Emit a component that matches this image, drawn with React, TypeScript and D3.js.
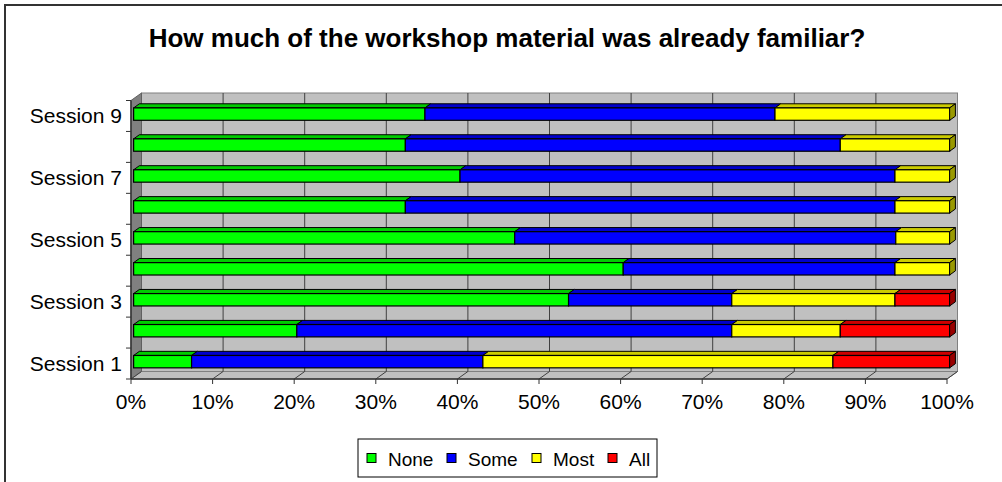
import React from "react";
import * as d3 from "d3";

// Sessions listed bottom to top; only every other name is printed on the axis
const sessions = [
  "Session 1",
  "Session 2",
  "Session 3",
  "Session 4",
  "Session 5",
  "Session 6",
  "Session 7",
  "Session 8",
  "Session 9",
];

const seriesNames = ["None", "Some", "Most", "All"];
const seriesColors = ["#00ff00", "#0000ff", "#ffff00", "#ff0000"];

// Share of answers per session (percent)
const none = [7.1, 20.0, 53.3, 60.0, 46.7, 33.3, 40.0, 33.3, 35.7];
const some = [35.7, 53.3, 20.0, 33.3, 46.7, 60.0, 53.3, 53.3, 42.9];
const most = [42.9, 13.3, 20.0, 6.7, 6.6, 6.7, 6.7, 13.4, 21.4];
const all = [14.3, 13.4, 6.7, 0, 0, 0, 0, 0, 0];

const xTicks = [0, 10, 20, 30, 40, 50, 60, 70, 80, 90, 100];

const W = 1002;
const H = 482;
const FONT = "'Liberation Sans', Arial, sans-serif";

// 3D depth vector of the plot box and where bars sit inside that depth
const DX = 10.5;
const DY = -7.5;
const T0 = 0.25;
const T1 = 0.8;

function shade(c: string, k: number) {
  const col = d3.rgb(c);
  return d3.rgb(col.r * k, col.g * k, col.b * k).toString();
}

export default function App() {
  const x = d3.scaleLinear().domain([0, 100]).range([131, 947]);
  const y = d3
    .scaleBand<string>()
    .domain([...sessions].reverse())
    .range([100.5, 379])
    .padding(0);

  const xL = x(0);
  const xR = x(100);
  const yT = 100.5;
  const yB = 379;

  const rows = sessions.map((s, i) => ({
    session: s,
    vals: [none[i], some[i], most[i], all[i]],
  }));

  const barH = y.bandwidth() * 0.4;
  const pts = (arr: [number, number][]) => arr.map((p) => p.join(",")).join(" ");

  const boundaries = d3.range(sessions.length + 1).map((i) => yT + i * y.bandwidth());

  // legend layout
  const legendItems = seriesNames.map((n, i) => ({ n, c: seriesColors[i] }));
  const textW = [45, 50, 41, 21];
  let cursor = 367;
  const legendPos = legendItems.map((d, i) => {
    const p = cursor;
    cursor += 21 + textW[i] + 14;
    return p;
  });

  return (
    <svg
      width={W}
      height={H}
      style={{ position: "absolute", left: 0, top: 0, background: "#fff" }}
      fontFamily={FONT}
    >
      <rect x={0} y={0} width={W} height={H} fill="#fff" />
      {/* chart frame */}
      <rect x={5} y={5} width={W + 20} height={H + 20} fill="none" stroke="#333" strokeWidth={2} />

      <text x={507} y={47} textAnchor="middle" fontSize={26} fontWeight="bold" fill="#000">
        How much of the workshop material was already familiar?
      </text>

      {/* back wall */}
      <rect
        x={xL + DX}
        y={yT + DY}
        width={xR - xL}
        height={yB - yT}
        fill="#c0c0c0"
        stroke="#808080"
        strokeWidth={1}
      />
      {/* side wall */}
      <polygon
        points={pts([
          [xL, yT],
          [xL + DX, yT + DY],
          [xL + DX, yB + DY],
          [xL, yB],
        ])}
        fill="#808080"
        stroke="#606060"
        strokeWidth={1}
      />
      {/* floor */}
      <polygon
        points={pts([
          [xL, yB],
          [xL + DX, yB + DY],
          [xR + DX, yB + DY],
          [xR, yB],
        ])}
        fill="#c0c0c0"
        stroke="#808080"
        strokeWidth={1}
      />

      {/* gridlines on back wall and floor */}
      {xTicks.map((t) => (
        <g key={"g" + t}>
          {t > 0 && t < 100 && (
            <line
              x1={x(t) + DX}
              x2={x(t) + DX}
              y1={yT + DY}
              y2={yB + DY}
              stroke="#404040"
              strokeWidth={1}
            />
          )}
          <line x1={x(t)} y1={yB} x2={x(t) + DX} y2={yB + DY} stroke="#404040" strokeWidth={1} />
        </g>
      ))}

      {/* axes */}
      <line x1={xL} y1={yT} x2={xL} y2={yB} stroke="#333" strokeWidth={1.5} />
      <line x1={xL} y1={yB} x2={xR} y2={yB} stroke="#333" strokeWidth={1.5} />
      {boundaries.map((b, i) => (
        <line key={"yt" + i} x1={xL - 5} x2={xL} y1={b} y2={b} stroke="#333" strokeWidth={1} />
      ))}
      {xTicks.map((t) => (
        <g key={"xt" + t}>
          <line x1={x(t)} x2={x(t)} y1={yB} y2={yB + 5} stroke="#333" strokeWidth={1} />
          <text x={x(t)} y={409} textAnchor="middle" fontSize={21} fill="#000">
            {t}%
          </text>
        </g>
      ))}
      {sessions.map((s, i) =>
        i % 2 === 0 ? (
          <text
            key={"yl" + s}
            x={122}
            y={(y(s) as number) + y.bandwidth() / 2 + 7.5}
            textAnchor="end"
            fontSize={21}
            fill="#000"
          >
            {s}
          </text>
        ) : null
      )}

      {/* 3D stacked bars */}
      {rows.map((r) => {
        const cy = (y(r.session) as number) + y.bandwidth() / 2;
        const y0 = cy - barH / 2 + DY * T0;
        const y1 = y0 + barH;
        const ox = DX * T0;
        const ddx = DX * (T1 - T0);
        const ddy = DY * (T1 - T0);
        const stack = d3.cumsum(r.vals);
        const segs = r.vals.map((v, k) => ({
          v,
          k,
          a: k === 0 ? 0 : stack[k - 1],
          b: stack[k],
        }));
        const visible = segs.filter((s) => s.v > 0);
        const last = visible[visible.length - 1];
        return (
          <g key={"bar" + r.session}>
            {visible.map((s) => {
              const xa = x(s.a) + ox;
              const xb = x(s.b) + ox;
              const c = seriesColors[s.k];
              return (
                <g key={s.k}>
                  <polygon
                    points={pts([
                      [xa, y0],
                      [xa + ddx, y0 + ddy],
                      [xb + ddx, y0 + ddy],
                      [xb, y0],
                    ])}
                    fill={shade(c, 0.8)}
                    stroke="#000"
                    strokeWidth={1}
                    strokeLinejoin="round"
                  />
                  <rect
                    x={xa}
                    y={y0}
                    width={xb - xa}
                    height={barH}
                    fill={c}
                    stroke="#000"
                    strokeWidth={1.2}
                  />
                </g>
              );
            })}
            {last && (
              <polygon
                points={pts([
                  [x(last.b) + ox, y0],
                  [x(last.b) + ox + ddx, y0 + ddy],
                  [x(last.b) + ox + ddx, y1 + ddy],
                  [x(last.b) + ox, y1],
                ])}
                fill={shade(seriesColors[last.k], 0.6)}
                stroke="#000"
                strokeWidth={1}
                strokeLinejoin="round"
              />
            )}
          </g>
        );
      })}

      {/* legend */}
      <rect x={358} y={439} width={299} height={38} fill="#fff" stroke="#000" strokeWidth={1} />
      {legendItems.map((d, i) => (
        <g key={"lg" + d.n}>
          <rect x={legendPos[i]} y={453.5} width={9} height={9} fill={d.c} stroke="#000" strokeWidth={1} />
          <text x={legendPos[i] + 21} y={465.5} fontSize={19} fill="#000">
            {d.n}
          </text>
        </g>
      ))}
    </svg>
  );
}
